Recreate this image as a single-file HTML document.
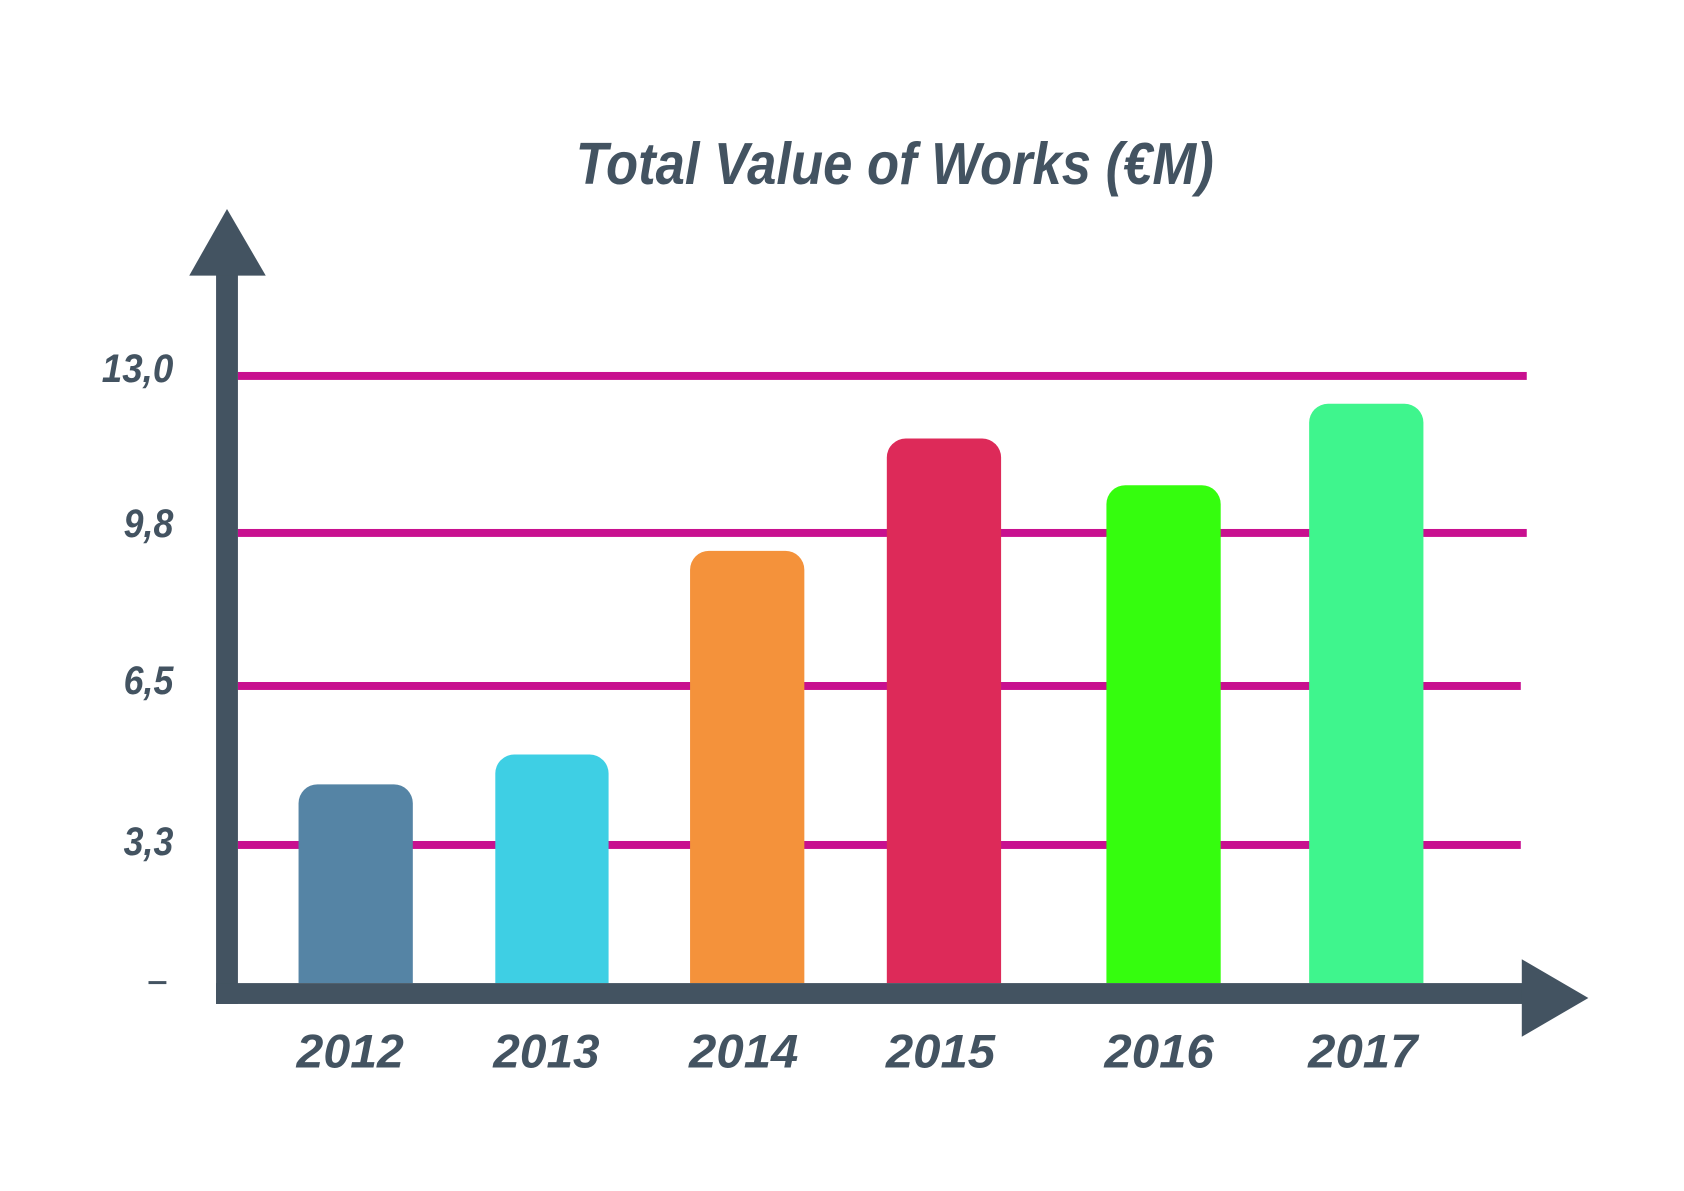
<!DOCTYPE html>
<html><head><meta charset="utf-8"><style>html,body{margin:0;padding:0;background:#fff}svg{display:block}</style></head>
<body>
<svg width="1684" height="1191" viewBox="0 0 1684 1191" xmlns="http://www.w3.org/2000/svg">
<rect width="1684" height="1191" fill="#fff"/>
<g transform="translate(227,209) scale(0.9937) translate(-227,-209)">
<g font-family="Liberation Sans, sans-serif" font-weight="bold" font-style="italic" fill="#435361">
<text x="578" y="184" font-size="60" textLength="642" lengthAdjust="spacingAndGlyphs">Total Value of Works (€M)</text>
<g font-size="40" text-anchor="end">
<text x="173" y="383" textLength="72" lengthAdjust="spacingAndGlyphs">13,0</text>
<text x="173" y="539" textLength="50" lengthAdjust="spacingAndGlyphs">9,8</text>
<text x="173" y="697" textLength="50" lengthAdjust="spacingAndGlyphs">6,5</text>
<text x="173" y="859" textLength="50" lengthAdjust="spacingAndGlyphs">3,3</text>
</g>
<rect x="148" y="986" width="18" height="3"/>
<g font-size="48">
<text x="297" y="1073" textLength="108" lengthAdjust="spacingAndGlyphs">2012</text>
<text x="495" y="1073" textLength="107" lengthAdjust="spacingAndGlyphs">2013</text>
<text x="692" y="1073" textLength="110" lengthAdjust="spacingAndGlyphs">2014</text>
<text x="890" y="1073" textLength="110" lengthAdjust="spacingAndGlyphs">2015</text>
<text x="1110" y="1073" textLength="110" lengthAdjust="spacingAndGlyphs">2016</text>
<text x="1315" y="1073" textLength="110" lengthAdjust="spacingAndGlyphs">2017</text>
</g>
</g>
<g fill="#c8108f">
<rect x="238" y="373" width="1297" height="8"/>
<rect x="238" y="531" width="1297" height="8"/>
<rect x="238" y="685" width="1291" height="8"/>
<rect x="238" y="845" width="1291" height="8"/>
</g>
<g>
<path d="M299 988V807a19 19 0 0 1 19-19h77a19 19 0 0 1 19 19V988z" fill="#5584a5"/>
<path d="M497 988V777a19 19 0 0 1 19-19h76a19 19 0 0 1 19 19V988z" fill="#3ecfe4"/>
<path d="M693 988V572a19 19 0 0 1 19-19h77a19 19 0 0 1 19 19V988z" fill="#f4923b"/>
<path d="M891 988V459a19 19 0 0 1 19-19h77a19 19 0 0 1 19 19V988z" fill="#dd2a59"/>
<path d="M1112 988V506a19 19 0 0 1 19-19h77a19 19 0 0 1 19 19V988z" fill="#35fd0e"/>
<path d="M1316 988V424a19 19 0 0 1 19-19h77a19 19 0 0 1 19 19V988z" fill="#3ff58d"/>
</g>
<g fill="#435361">
<rect x="216" y="272" width="22" height="737"/>
<polygon points="227,209 189,276 266,276"/>
<rect x="216" y="988" width="1318" height="21"/>
<polygon points="1530,964 1597,1003 1530,1042"/>
</g>
</g>
</svg>
</body></html>
